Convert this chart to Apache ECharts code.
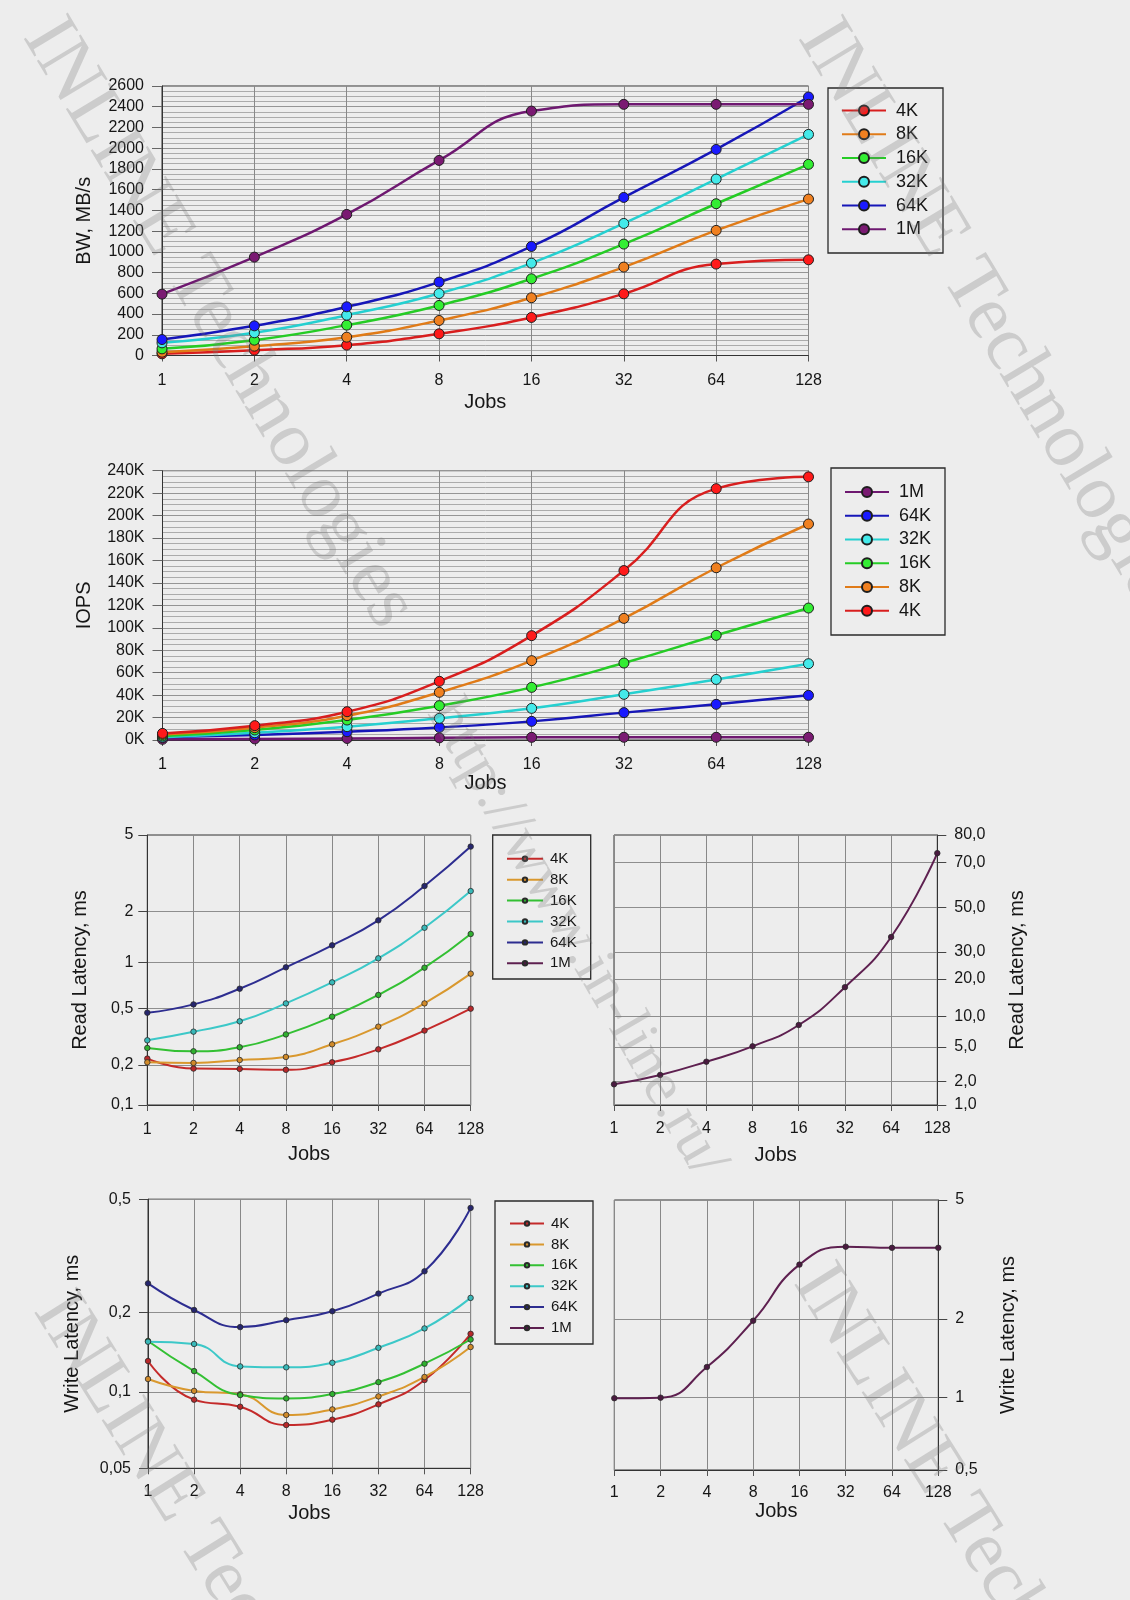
<!DOCTYPE html>
<html>
<head>
<meta charset="utf-8">
<script src="https://cdn.jsdelivr.net/npm/echarts@6/dist/echarts.min.js"></script>
<style>
html,body{margin:0;padding:0;background:#ededed;}
#c{width:1130px;height:1600px;}
</style>
</head>
<body>
<div id="c"></div>
<script>
// ---------------- DATA ----------------
const jobs = ['1', '2', '4', '8', '16', '32', '64', '128'];
const blockSizes = ['4K', '8K', '16K', '32K', '64K', '1M'];

// Bandwidth, MB/s
const bw4K  = [16, 51, 100, 209, 367, 595, 882, 923];
const bw8K  = [32, 90, 177, 338, 557, 853, 1207, 1509];
const bw16K = [64, 148, 293, 483, 740, 1075, 1464, 1844];
const bw32K = [122, 219, 389, 598, 891, 1274, 1702, 2133];
const bw64K = [154, 286, 470, 708, 1052, 1525, 1988, 2494];
const bw1M  = [592, 949, 1361, 1882, 2358, 2423, 2423, 2423];

// IOPS
const iops4K  = [5900, 12800, 25200, 52300, 93000, 151000, 224000, 234500];
const iops8K  = [5000, 11000, 21700, 42500, 70700, 108400, 153500, 192500];
const iops16K = [3600, 8900, 17800, 30600, 46900, 68600, 93300, 117600];
const iops32K = [2500, 6500, 11900, 19300, 28200, 40700, 54000, 68000];
const iops64K = [2400, 4500, 7400, 11200, 16600, 24400, 31800, 39800];
const iops1M  = [600, 950, 1360, 1900, 2360, 2420, 2420, 2420];

// Read latency, ms
const rd4K  = [0.222, 0.188, 0.187, 0.184, 0.209, 0.258, 0.350, 0.50];
const rd8K  = [0.209, 0.207, 0.217, 0.228, 0.280, 0.373, 0.541, 0.844];
const rd16K = [0.264, 0.250, 0.267, 0.329, 0.439, 0.614, 0.923, 1.47];
const rd32K = [0.299, 0.344, 0.407, 0.541, 0.741, 1.056, 1.60, 2.55];
const rd64K = [0.468, 0.533, 0.674, 0.928, 1.26, 1.77, 2.71, 4.35];
const rd1M  = [1.85, 2.39, 3.39, 5.08, 8.27, 17.2, 35.6, 73.3];

// Write latency, ms
const wr4K  = [0.131, 0.0933, 0.0875, 0.0741, 0.0778, 0.0894, 0.111, 0.166];
const wr8K  = [0.112, 0.101, 0.098, 0.0812, 0.0854, 0.0961, 0.114, 0.148];
const wr16K = [0.156, 0.120, 0.0973, 0.0944, 0.0982, 0.109, 0.128, 0.158];
const wr32K = [0.155, 0.152, 0.125, 0.124, 0.129, 0.147, 0.174, 0.225];
const wr64K = [0.253, 0.204, 0.176, 0.187, 0.202, 0.233, 0.279, 0.466];
const wr1M  = [0.995, 1.0, 1.31, 1.97, 3.04, 3.49, 3.46, 3.46];

// Tick labels of the latency axes
const readLeftTicks   = [0.1, 0.2, 0.5, 1, 2, 5];
const readRightTicks  = [1, 2, 5, 10, 20, 30, 50, 70, 80];
const writeLeftTicks  = [0.05, 0.1, 0.2, 0.5];
const writeRightTicks = [0.5, 1, 2, 5];

// ---------------- SCALE LAYOUT (tick placement, fraction of axis height) ----------------
const readLeftPos   = [0, 0.1481, 0.3568, 0.5284, 0.7173, 1];
const readRightPos  = [0, 0.0864, 0.2148, 0.3272, 0.4667, 0.5667, 0.7321, 0.8975, 1];
const writeLeftPos  = [0, 0.2834, 0.5792, 1];
const writeRightPos = [0, 0.2679, 0.5593, 1];

// Piecewise-logarithmic scale between the printed ticks
function makeScale(ticks, pos) {
  const n = ticks.length;
  return function (v) {
    let i = 0;
    while (i < n - 2 && v > ticks[i + 1]) i++;
    const a = ticks[i], b = ticks[i + 1];
    const t = (Math.log(v) - Math.log(a)) / (Math.log(b) - Math.log(a));
    return pos[i] + t * (pos[i + 1] - pos[i]);
  };
}
function nearestIdx(arr, v) {
  let best = 0;
  for (let i = 1; i < arr.length; i++) if (Math.abs(arr[i] - v) < Math.abs(arr[best] - v)) best = i;
  return best;
}
function fmtTick(v, dec) {
  return (dec != null ? v.toFixed(dec) : String(v)).replace('.', ',');
}

// ---------------- STYLE ----------------
const FONT = '"Liberation Sans", Arial, sans-serif';
const TXT = '#161616';
const topColors = {
  '4K':  ['#d81e1e', '#ff1a1a'],
  '8K':  ['#e07b18', '#f08020'],
  '16K': ['#25cc25', '#33ee33'],
  '32K': ['#25d0d0', '#44eaea'],
  '64K': ['#1616b8', '#1a1aff'],
  '1M':  ['#6e1870', '#7a1a72']
};
const latColors = {
  '4K':  ['#c42a2a', '#b8282a'],
  '8K':  ['#d9982e', '#d08a2a'],
  '16K': ['#33c033', '#2fb02f'],
  '32K': ['#3cc8c8', '#38b8b8'],
  '64K': ['#2d2d90', '#26266e'],
  '1M':  ['#5e2050', '#4a1a40']
};

const gridBase = {show: true, borderColor: '#333', borderWidth: 1, containLabel: false, outerBoundsMode: 'none', backgroundColor: 'transparent'};
const grids = [
  Object.assign({left: 162, top: 86, width: 646.5, height: 269.5}, gridBase),
  Object.assign({left: 162.5, top: 470.7, width: 646, height: 269.3}, gridBase),
  Object.assign({left: 147.3, top: 835, width: 323.4, height: 270}, gridBase),
  Object.assign({left: 614, top: 835, width: 323.3, height: 270}, gridBase),
  Object.assign({left: 148, top: 1199.2, width: 322.6, height: 269.1}, gridBase),
  Object.assign({left: 614.3, top: 1200, width: 324, height: 270}, gridBase)
];

const nameGapsX = [37, 31, 39, 40, 35, 30];
const labelMarginsX = [17, 17, 17, 16, 15, 15];
function xAx(gi) {
  return {
    type: 'category', gridIndex: gi, data: jobs, boundaryGap: false,
    axisLine: {show: true, lineStyle: {color: '#333', width: 1}},
    axisTick: {show: true, length: 6, interval: 0, alignWithLabel: true, lineStyle: {color: '#555'}},
    axisLabel: {interval: 0, fontSize: 16, fontFamily: FONT, color: TXT, margin: labelMarginsX[gi]},
    splitLine: {show: true, interval: 0, lineStyle: {color: '#888', width: 1}},
    name: 'Jobs', nameLocation: 'middle', nameGap: nameGapsX[gi],
    nameTextStyle: {fontSize: 20, fontFamily: FONT, color: TXT}
  };
}

function topY(gi, max, interval, name, formatter) {
  return {
    type: 'value', gridIndex: gi, min: 0, max: max, interval: interval,
    axisLine: {show: true, lineStyle: {color: '#333'}},
    axisTick: {show: true, length: 10, lineStyle: {color: '#666'}},
    axisLabel: {fontSize: 16, fontFamily: FONT, color: TXT, margin: 18, formatter: formatter},
    splitLine: {show: true, lineStyle: {color: '#959595', width: 1}},
    minorTick: {show: false, splitNumber: 4},
    minorSplitLine: {show: true, lineStyle: {color: '#ababab', width: 1}},
    name: name, nameLocation: 'middle', nameGap: 68,
    nameTextStyle: {fontSize: 20, fontFamily: FONT, color: TXT}
  };
}

function latY(gi, ticks, pos, name, right, dec, margin, nameGap) {
  return {
    type: 'value', gridIndex: gi, min: 0, max: 1, position: right ? 'right' : 'left',
    axisLine: {show: true, lineStyle: {color: '#333'}},
    axisTick: {show: true, length: 9, customValues: pos, lineStyle: {color: '#444'}},
    axisLabel: {customValues: pos, margin: margin, fontSize: 16, fontFamily: FONT, color: TXT,
      formatter: function (v) { return fmtTick(ticks[nearestIdx(pos, v)], dec); }},
    splitLine: {show: true, lineStyle: {color: '#8e8e8e', width: 1}},
    name: name, nameLocation: 'middle', nameGap: nameGap,
    nameTextStyle: {fontSize: 20, fontFamily: FONT, color: TXT}
  };
}

function topSeries(name, data, gi) {
  const c = topColors[name];
  return {
    type: 'line', name: name, xAxisIndex: gi, yAxisIndex: gi, data: data,
    smooth: 0.5, symbol: 'circle', symbolSize: 10, showSymbol: true,
    lineStyle: {color: c[0], width: 2.5},
    itemStyle: {color: c[1], borderColor: '#1e1e1e', borderWidth: 1},
    emphasis: {disabled: true}
  };
}
function latSeries(prefix, bs, vals, gi, scale) {
  const c = latColors[bs];
  return {
    type: 'line', name: prefix + bs, xAxisIndex: gi, yAxisIndex: gi,
    data: vals.map(scale),
    smooth: 0.5, symbol: 'circle', symbolSize: 5.5, showSymbol: true,
    lineStyle: {color: c[0], width: 2},
    itemStyle: {color: c[1], borderColor: '#2a2a2a', borderWidth: 0.8},
    emphasis: {disabled: true}
  };
}

const sRL = makeScale(readLeftTicks, readLeftPos);
const sRR = makeScale(readRightTicks, readRightPos);
const sWL = makeScale(writeLeftTicks, writeLeftPos);
const sWR = makeScale(writeRightTicks, writeRightPos);

const series = [
  topSeries('4K', bw4K, 0), topSeries('8K', bw8K, 0), topSeries('16K', bw16K, 0),
  topSeries('32K', bw32K, 0), topSeries('64K', bw64K, 0), topSeries('1M', bw1M, 0),
  topSeries('1M', iops1M, 1), topSeries('64K', iops64K, 1), topSeries('32K', iops32K, 1),
  topSeries('16K', iops16K, 1), topSeries('8K', iops8K, 1), topSeries('4K', iops4K, 1),
  latSeries('r', '4K', rd4K, 2, sRL), latSeries('r', '8K', rd8K, 2, sRL), latSeries('r', '16K', rd16K, 2, sRL),
  latSeries('r', '32K', rd32K, 2, sRL), latSeries('r', '64K', rd64K, 2, sRL),
  latSeries('r', '1M', rd1M, 3, sRR),
  latSeries('w', '4K', wr4K, 4, sWL), latSeries('w', '8K', wr8K, 4, sWL), latSeries('w', '16K', wr16K, 4, sWL),
  latSeries('w', '32K', wr32K, 4, sWL), latSeries('w', '64K', wr64K, 4, sWL),
  latSeries('w', '1M', wr1M, 5, sWR)
];

function legendTop(names, left, top) {
  return {
    data: names, orient: 'vertical', left: left, top: top,
    itemWidth: 44, itemHeight: 12.5, itemGap: 5.75, padding: 0,
    textStyle: {fontSize: 18, lineHeight: 18, fontFamily: FONT, color: TXT, padding: [0, 0, 0, 5]}
  };
}
function legendLat(prefix, left, top, w) {
  return {
    data: blockSizes.map(function (b) { return prefix + b; }),
    formatter: function (n) { return n.slice(1); },
    orient: 'vertical', left: left, top: top,
    itemWidth: w, itemHeight: 5.5, itemGap: 5.9, padding: 0,
    textStyle: {fontSize: 15, lineHeight: 14, fontFamily: FONT, color: TXT, padding: [0, 0, 0, 2]}
  };
}

const wmStyle = {fontSize: 76, fontFamily: '"Liberation Serif", "DejaVu Serif", serif', fill: 'rgba(120,120,120,0.28)', align: 'left', verticalAlign: 'middle'};
function wm(text, x, y, deg, size) {
  return {type: 'text', x: x, y: y, rotation: -deg * Math.PI / 180, silent: true, z: 200,
    style: Object.assign({}, wmStyle, {text: text, fontSize: size || 76})};
}
function box(x, y, w, h) {
  return {type: 'rect', shape: {x: x, y: y, width: w, height: h}, silent: true, z: 5,
    style: {fill: 'transparent', stroke: '#2a2a2a', lineWidth: 1.3}};
}

const chart = echarts.init(document.getElementById('c'), null, {renderer: 'canvas'});
chart.setOption({
  backgroundColor: '#ededed',
  animation: false,
  grid: grids,
  xAxis: [xAx(0), xAx(1), xAx(2), xAx(3), xAx(4), xAx(5)],
  yAxis: [
    topY(0, 2600, 200, 'BW, MB/s', function (v) { return String(v); }),
    topY(1, 240000, 20000, 'IOPS', function (v) { return (v / 1000) + 'K'; }),
    latY(2, readLeftTicks, readLeftPos, 'Read Latency, ms', false, null, 14, 57),
    latY(3, readRightTicks, readRightPos, 'Read Latency, ms', true, 1, 17, 70),
    latY(4, writeLeftTicks, writeLeftPos, 'Write Latency, ms', false, null, 17, 66),
    latY(5, writeRightTicks, writeRightPos, 'Write Latency, ms', true, null, 17, 60)
  ],
  legend: [
    legendTop(blockSizes, 841, 101.6),
    legendTop(['1M', '64K', '32K', '16K', '8K', '4K'], 844, 483),
    legendLat('r', 506, 851.3, 36),
    legendLat('w', 509, 1216, 34)
  ],
  graphic: [
    box(828, 88, 115, 165),
    box(831, 468, 114, 167),
    box(492.7, 835, 98, 144),
    box(495, 1201, 98, 143),
    wm('INLINE Technologies', 40, 26, 59, 78),
    wm('INLINE Technologies', 815, 27, 59, 78),
    wm('http://www.in-line.ru/', 441, 705, 60, 62),
    wm('INLINE Technologies', 50, 1300, 58),
    wm('INLINE Technologies', 810, 1272, 58)
  ],
  series: series
});
</script>
</body>
</html>
